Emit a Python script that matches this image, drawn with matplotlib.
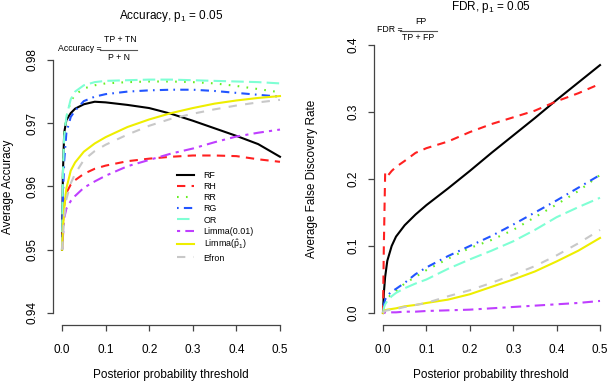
import numpy as np
import matplotlib.pyplot as plt
from matplotlib.lines import Line2D

plt.rcParams['font.family'] = ['Liberation Sans', 'DejaVu Sans']
plt.rcParams['mathtext.fontset'] = 'custom'
plt.rcParams['mathtext.rm'] = 'Liberation Sans'
plt.rcParams['mathtext.it'] = 'Liberation Sans:italic'
plt.rcParams['mathtext.bf'] = 'Liberation Sans:bold'

# umbral de probabilidad posterior
umbral = [0, 0.002, 0.005, 0.01, 0.02, 0.03, 0.05, 0.075, 0.1, 0.15, 0.2, 0.25, 0.3, 0.35, 0.4, 0.45, 0.5]

# exactitud promedio
acc_rf = [0.950, 0.962, 0.9685, 0.9705, 0.9716, 0.9723, 0.9730, 0.9734, 0.9733, 0.9729, 0.9724, 0.9715, 0.9704, 0.9692, 0.9680, 0.9667, 0.9647]
acc_rh = [0.950, 0.954, 0.957, 0.9590, 0.9603, 0.9610, 0.9620, 0.9628, 0.9633, 0.9640, 0.9644, 0.9647, 0.9649, 0.9649, 0.9648, 0.9643, 0.9639]
acc_rr = [0.950, 0.962, 0.968, 0.971, 0.9735, 0.9745, 0.9755, 0.9760, 0.9763, 0.9765, 0.9766, 0.9766, 0.9765, 0.9763, 0.9759, 0.9754, 0.9749]
acc_rg = [0.950, 0.958, 0.964, 0.9685, 0.9710, 0.9720, 0.9735, 0.9742, 0.9746, 0.9750, 0.9752, 0.9753, 0.9753, 0.9751, 0.9748, 0.9745, 0.9742]
acc_or = [0.950, 0.962, 0.968, 0.971, 0.9738, 0.9750, 0.9760, 0.9765, 0.9767, 0.9768, 0.9769, 0.9769, 0.9768, 0.9767, 0.9766, 0.9765, 0.9763]
acc_limma01 = [0.950, 0.952, 0.955, 0.9565, 0.9577, 0.9585, 0.9598, 0.9608, 0.9617, 0.9632, 0.9642, 0.9652, 0.9660, 0.9670, 0.9679, 0.9685, 0.9690]
acc_limmap1 = [0.950, 0.953, 0.9565, 0.9597, 0.9625, 0.9638, 0.9655, 0.9668, 0.9678, 0.9694, 0.9706, 0.9716, 0.9724, 0.9731, 0.9736, 0.9740, 0.9743]
acc_efron = [0.950, 0.952, 0.955, 0.958, 0.9605, 0.9620, 0.9642, 0.9656, 0.9666, 0.9682, 0.9696, 0.9707, 0.9715, 0.9722, 0.9728, 0.9733, 0.9737]

# tasa promedio de falsos descubrimientos
fdr_rf = [0.0, 0.03, 0.054, 0.078, 0.100, 0.114, 0.131, 0.147, 0.161, 0.186, 0.212, 0.239, 0.265, 0.291, 0.318, 0.344, 0.370]
fdr_rh = [0.0, 0.10, 0.209, 0.204, 0.212, 0.218, 0.227, 0.239, 0.246, 0.256, 0.270, 0.282, 0.292, 0.302, 0.316, 0.328, 0.342]
fdr_rr = [0.0, 0.010, 0.017, 0.022, 0.028, 0.033, 0.044, 0.054, 0.064, 0.081, 0.097, 0.109, 0.124, 0.143, 0.162, 0.182, 0.206]
fdr_rg = [0.0, 0.012, 0.020, 0.026, 0.032, 0.036, 0.045, 0.058, 0.068, 0.085, 0.100, 0.115, 0.132, 0.150, 0.168, 0.187, 0.206]
fdr_or = [0.0, 0.008, 0.013, 0.018, 0.025, 0.030, 0.037, 0.044, 0.050, 0.066, 0.080, 0.093, 0.107, 0.124, 0.143, 0.158, 0.172]
fdr_limma01 = [0.0, 0.0, 0.001, 0.001, 0.001, 0.001, 0.002, 0.002, 0.003, 0.004, 0.005, 0.007, 0.009, 0.011, 0.013, 0.015, 0.018]
fdr_limmap1 = [0.0, 0.002, 0.004, 0.005, 0.006, 0.007, 0.010, 0.012, 0.015, 0.020, 0.028, 0.039, 0.050, 0.062, 0.077, 0.093, 0.112]
fdr_efron = [0.0, 0.002, 0.003, 0.004, 0.005, 0.006, 0.009, 0.012, 0.015, 0.025, 0.034, 0.045, 0.057, 0.070, 0.086, 0.104, 0.124]

metodos = ["RF", "RH", "RR", "RG", "OR", "Limma(0.01)", r"Limma($\hat{\mathrm{p}}_1$)", "Efron"]
colores = ["black", "#FF2020", "#66EE22", "#2255FF", "#7FFFD4", "#BF3EFF", "#EEEE00", "#C8C8C8"]
estilos = ["-", (0, (4, 3)), (0, (0.8, 3.5)), (0, (0.8, 2.5, 4, 2.5)), (0, (6, 2.5)),
           (0, (1.5, 2.5, 5, 2.5)), "-", (0, (4, 4))]

acc = [acc_rf, acc_rh, acc_rr, acc_rg, acc_or, acc_limma01, acc_limmap1, acc_efron]
fdr = [fdr_rf, fdr_rh, fdr_rr, fdr_rg, fdr_or, fdr_limma01, fdr_limmap1, fdr_efron]

xticks = [0.0, 0.1, 0.2, 0.3, 0.4, 0.5]
acc_ticks = [0.94, 0.95, 0.96, 0.97, 0.98]
fdr_ticks = [0.0, 0.1, 0.2, 0.3, 0.4]

W, H = 608, 382
fig = plt.figure(figsize=(W / 100, H / 100), dpi=100)
ax1 = fig.add_axes([53.3 / W, (H - 325) / H, 235.4 / W, 275 / H])
ax2 = fig.add_axes([374.3 / W, (H - 325) / H, 234.4 / W, 291 / H])


def preparar_eje(ax, ylim, yticks, yfmt):
    ax.set_xlim(-0.02, 0.52)
    ax.set_ylim(*ylim)
    ax.patch.set_visible(False)
    for lado in ["top", "right"]:
        ax.spines[lado].set_visible(False)
    ax.spines["left"].set_bounds(yticks[0], yticks[-1])
    ax.spines["bottom"].set_bounds(0, 0.5)
    for lado in ["left", "bottom"]:
        ax.spines[lado].set_color("#444444")
        ax.spines[lado].set_linewidth(0.9)
    ax.set_xticks(xticks)
    ax.set_xticklabels([f"{t:.1f}" for t in xticks])
    ax.set_yticks(yticks)
    ax.set_yticklabels([yfmt.format(t) for t in yticks], rotation=90, va="center")
    ax.tick_params(length=4, width=0.9, color="#444444", labelsize=8.5)
    ax.tick_params(axis="x", pad=10)
    ax.tick_params(axis="y", pad=7)


preparar_eje(ax1, (0.9381, 0.98158), acc_ticks, "{:.2f}")
preparar_eje(ax2, (-0.0179, 0.4164), fdr_ticks, "{:.1f}")

for i in range(len(metodos)):
    ax1.plot(umbral, acc[i], color=colores[i], linestyle=estilos[i], lw=1.5, label=metodos[i])
    ax2.plot(umbral, fdr[i], color=colores[i], linestyle=estilos[i], lw=1.5)

ax1.legend(loc="upper left", bbox_to_anchor=(177 / W, 1 - 171 / H), bbox_transform=fig.transFigure,
           frameon=False, fontsize=6.4, handlelength=1.9, handletextpad=1.1,
           labelspacing=0.24, borderpad=0, borderaxespad=0)

fig.text(171 / W, 1 - 16 / H, r"Accuracy, p$_1$ = 0.05", ha="center", va="center", fontsize=8.5)
fig.text(491 / W, 1 - 7 / H, r"FDR, p$_1$ = 0.05", ha="center", va="center", fontsize=8.5)

# formulas: texto a la izquierda, fraccion armada con numerador, denominador y raya
fig.text(58 / W, 1 - 48.5 / H, "Accuracy =", ha="left", va="center", fontsize=6.3)
fig.text(120 / W, 1 - 40 / H, "TP + TN", ha="center", va="center", fontsize=6.3)
fig.text(119 / W, 1 - 57 / H, "P + N", ha="center", va="center", fontsize=6.3)
fig.add_artist(Line2D([100 / W, 137 / W], [1 - 49.5 / H, 1 - 49.5 / H], color="#555555", lw=0.8))

fig.text(377 / W, 1 - 29.5 / H, "FDR =", ha="left", va="center", fontsize=6.3)
fig.text(421 / W, 1 - 21 / H, "FP", ha="center", va="center", fontsize=6.3)
fig.text(418.5 / W, 1 - 38 / H, "TP + FP", ha="center", va="center", fontsize=6.3)
fig.add_artist(Line2D([400 / W, 437 / W], [1 - 30.5 / H, 1 - 30.5 / H], color="#555555", lw=0.8))

fig.text(8 / W, 1 - 187 / H, "Average Accuracy", rotation=90, ha="center", va="center", fontsize=8.5)
fig.text(312 / W, 1 - 179 / H, "Average False Discovery Rate", rotation=90, ha="center", va="center", fontsize=8.5)
fig.text(171 / W, 1 - 375 / H, "Posterior probability threshold", ha="center", va="center", fontsize=8.5)
fig.text(491 / W, 1 - 375 / H, "Posterior probability threshold", ha="center", va="center", fontsize=8.5)

fig.savefig("out.png", dpi=100)
